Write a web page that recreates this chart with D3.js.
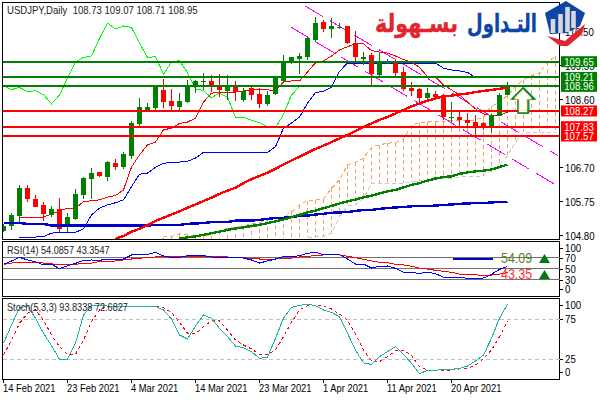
<!DOCTYPE html>
<html><head><meta charset="utf-8">
<script src="https://cdn.jsdelivr.net/npm/d3@7"></script>
<style>
html,body{margin:0;padding:0;background:#fff}
svg{display:block}
text{font-family:"Liberation Sans",Arial,sans-serif;font-size:10.5px;fill:#000}
</style></head><body><div id="c"></div>
<script>
const opens=[104.91,105.05,105.33,106.11,105.81,105.64,105.36,105.53,105.02,105.25,105.92,106.36,106.56,106.43,106.81,106.70,107.02,107.91,108.28,108.35,108.87,108.55,108.37,108.52,108.95,109.07,109.11,108.99,108.82,108.93,108.58,108.91,108.75,108.47,108.75,109.11,109.62,109.72,109.77,110.26,110.75,110.57,110.59,110.66,110.17,109.72,109.84,109.28,109.64,109.65,109.35,108.91,108.89,108.64,108.75,108.72,108.07,108.09,108.02,107.97,107.93,107.86,108.14,108.73];
const highs=[105.11,105.42,106.20,106.20,105.92,105.73,105.61,105.84,105.42,106.09,106.43,106.67,106.56,106.86,106.93,107.11,107.99,108.64,108.49,109.00,109.17,108.89,108.77,109.14,109.14,109.33,109.28,109.31,109.28,109.11,108.91,108.97,108.91,108.84,109.19,109.84,109.79,109.89,110.30,110.91,110.82,110.87,110.74,110.66,110.52,109.93,109.89,109.93,109.73,109.73,109.51,109.09,108.91,108.91,108.84,108.75,108.51,108.25,108.21,108.16,107.97,108.19,108.77,109.07];
const lows=[104.88,104.94,105.16,105.73,105.57,105.20,105.31,104.89,104.89,105.22,105.81,105.81,106.42,106.32,106.62,106.65,106.93,107.79,108.24,108.30,108.35,108.28,108.28,108.49,108.77,108.86,108.81,108.67,108.58,108.56,108.53,108.58,108.36,108.42,108.72,109.09,109.59,109.31,109.70,110.21,110.49,110.31,110.56,110.15,109.61,109.55,108.97,109.21,109.59,109.21,108.84,108.69,108.53,108.53,108.60,108.02,107.93,107.83,107.79,107.51,107.74,107.65,108.13,108.71];
const closes=[105.05,105.36,106.11,105.81,105.59,105.39,105.53,104.97,105.30,105.95,106.39,106.54,106.45,106.84,106.70,107.07,107.93,108.37,108.37,108.95,108.52,108.41,108.55,108.99,109.11,109.10,108.97,108.87,108.93,108.81,108.84,108.73,108.47,108.72,109.19,109.64,109.77,109.81,110.30,110.73,110.57,110.65,110.61,110.17,109.77,109.79,109.30,109.64,109.68,109.34,108.89,108.84,108.64,108.77,108.66,108.09,108.10,108.01,107.94,107.82,107.80,108.17,108.72,108.95];

const chikou=[108.97,108.87,108.93,108.81,108.84,108.73,108.47,108.72,109.19,109.64,109.77,109.81,110.30,110.73,110.57,110.65,110.61,110.17,109.77,109.79,109.30,109.64,109.68,109.34,108.89,108.84,108.64,108.77,108.66,108.09,108.10,108.01,107.94,107.82,107.80,108.17,108.72,108.95];
const tenkanStart=2;
const tenkan=[105.30,105.30,105.30,105.30,105.38,105.47,105.55,105.55,105.73,105.76,105.78,105.86,105.90,106.06,106.70,107.04,107.32,107.40,107.74,107.79,107.92,107.96,108.07,108.52,108.77,108.79,108.79,108.80,108.83,108.86,108.86,108.86,108.84,109.08,109.11,109.11,109.36,109.62,109.67,109.81,109.98,110.07,110.15,110.15,109.96,109.92,109.89,109.81,109.71,109.64,109.49,109.23,109.22,109.00,108.86,108.72,108.52,108.33,108.19,108.14,108.14,108.24];
const kijunStart=2;
const kijun=[104.73,104.74,104.74,104.75,104.85,104.87,104.87,104.87,104.97,105.36,105.55,105.64,105.70,105.78,106.15,106.50,106.53,106.69,106.81,106.82,106.84,106.86,106.95,107.11,107.11,107.11,107.11,107.11,107.11,107.11,107.11,107.11,107.27,107.79,107.93,108.10,108.49,108.79,108.82,108.94,109.38,109.61,109.61,109.61,109.61,109.61,109.61,109.61,109.61,109.61,109.61,109.61,109.61,109.47,109.42,109.39,109.35,109.21,109.21,109.21,109.21,109.21];
const maRedStart=14;
const maRed=[104.69,104.77,104.89,104.97,105.07,105.19,105.28,105.37,105.46,105.56,105.65,105.75,105.84,105.95,106.04,106.12,106.25,106.36,106.45,106.54,106.65,106.77,106.88,106.99,107.10,107.21,107.30,107.40,107.50,107.60,107.71,107.82,107.92,108.02,108.10,108.20,108.30,108.40,108.48,108.56,108.62,108.68,108.70,108.73,108.76,108.80,108.83,108.86,108.89,108.93];
const maGreenStart=22;
const maGreen=[104.70,104.73,104.76,104.80,104.85,104.89,104.94,104.98,105.01,105.05,105.08,105.13,105.18,105.23,105.30,105.36,105.43,105.48,105.55,105.61,105.68,105.74,105.79,105.85,105.90,105.96,106.02,106.06,106.13,106.20,106.25,106.32,106.38,106.42,106.44,106.51,106.55,106.58,106.60,106.63,106.70,106.77];
const maBlue=[105.13,105.13,105.13,105.11,105.11,105.11,105.06,105.06,105.06,105.06,105.06,105.06,105.06,105.06,105.06,105.06,105.06,105.06,105.06,105.08,105.08,105.08,105.08,105.11,105.12,105.13,105.16,105.16,105.16,105.20,105.20,105.20,105.22,105.25,105.27,105.28,105.30,105.33,105.34,105.37,105.39,105.42,105.43,105.44,105.47,105.50,105.50,105.53,105.55,105.57,105.58,105.60,105.61,105.61,105.62,105.64,105.65,105.67,105.68,105.69,105.69,105.71,105.72,105.73];
const spanStart=20;
const spanA=[104.74,104.75,104.83,104.80,104.77,104.77,104.80,104.91,104.99,105.02,105.05,105.11,105.15,105.22,105.28,105.30,105.44,105.64,105.75,105.78,105.81,106.11,106.34,106.76,106.83,106.95,107.26,107.32,107.37,107.38,107.49,107.88,107.94,107.96,107.97,107.97,108.00,108.00,108.00,108.02,108.10,108.41,108.50,108.72,108.95,109.14,109.26,109.33,109.64,109.81];
const spanB=[104.55,104.55,104.55,104.55,104.55,104.55,104.55,104.55,104.55,104.55,104.55,104.55,104.55,104.55,104.55,104.55,104.55,104.55,104.74,104.74,104.75,104.85,105.30,105.61,105.64,105.83,106.25,106.25,106.25,106.25,106.25,106.28,106.31,106.34,106.35,106.38,106.39,106.42,106.43,106.44,106.45,106.59,106.76,107.01,107.40,107.67,107.67,107.67,107.67,107.67];
const trendIdx=[[37.7,69.3],[36.0,69.4]];
const trendPx=[[111.21,107.02],[110.61,106.15]];

const rsi=[58.1,64.2,70.8,66.0,63.0,56.9,58.1,50.2,55.7,59.9,65.4,66.0,65.4,67.8,66.6,67.8,75.1,76.3,76.3,79.9,73.3,70.8,70.8,73.9,73.9,73.9,71.5,70.8,70.8,70.2,69.6,66.0,60.5,64.2,67.8,72.1,72.1,73.9,78.1,79.9,75.7,75.7,75.7,67.8,58.7,58.7,51.4,54.5,55.1,50.9,43.6,43.0,41.8,43.6,41.2,34.5,34.5,34.5,32.7,32.7,33.3,39.9,49.0,54.09];
const rsiSignal=[58.1,60.5,61.8,61.8,61.8,60.5,59.3,56.9,57.5,58.1,59.9,60.5,63.0,63.6,64.2,66.0,67.8,69.0,70.8,71.5,72.1,71.5,71.5,72.1,72.7,72.7,72.1,71.5,71.5,70.8,70.2,69.0,67.8,67.2,67.8,69.0,69.6,71.5,72.7,73.9,75.1,75.1,75.1,72.7,70.2,67.2,64.2,61.8,61.1,58.1,56.9,54.5,51.4,49.6,47.2,45.4,43.6,40.5,39.9,39.3,37.5,38.7,40.5,43.35];
const stochMain=[45.0,67.9,89.6,91.6,76.2,57.5,42.1,25.0,25.0,45.0,80.4,91.6,92.5,91.6,91.6,91.6,91.6,91.6,90.8,91.2,86.6,75.4,55.4,50.4,66.6,80.4,76.2,63.7,53.3,41.6,39.6,34.6,26.2,27.5,51.2,76.2,90.0,92.5,93.7,92.1,86.6,83.7,78.3,57.5,36.6,20.4,18.7,28.3,34.6,40.8,31.2,20.0,7.1,11.2,11.2,12.5,12.5,13.7,16.6,22.9,30.4,51.2,76.2,93.83];
const stochSignal=[30.4,49.1,70.0,82.5,86.6,74.1,55.4,40.8,31.2,31.2,49.1,72.1,86.6,91.6,91.6,91.6,91.6,91.6,91.2,91.2,89.6,83.7,71.2,57.5,56.6,65.8,72.9,72.9,61.6,49.1,42.9,37.9,31.2,31.2,36.6,53.3,71.2,86.6,92.1,92.9,91.6,87.9,81.6,74.1,56.6,36.6,22.9,22.1,28.3,35.8,36.6,29.6,15.8,11.6,10.4,10.8,11.6,12.9,13.7,17.9,25.4,36.6,53.3,72.68];

const dateTickIdx=[0,8,16,24,32,40,48,56];
const dateLabels=["14 Feb 2021","23 Feb 2021","4 Mar 2021","14 Mar 2021","23 Mar 2021","1 Apr 2021","11 Apr 2021","20 Apr 2021"];
const priceTicks=[110.50,109.55,108.60,106.70,105.75,104.80];
const rsiTicks=[100,70,50,30,0];
const stochTicks=[100,75,25,0];
const levelGreen=[109.65,109.21,108.96];
const levelRed=[108.27,107.83,107.57];

const W=600,H=400;
const svg=d3.select("#c").append("svg").attr("width",W).attr("height",H);
const pL=2.5,pR=559.5,pT=2.5,pB=239.5,rT=241.5,rB=296.5,sT=298.5,sB=379.5;
const x=d3.scaleLinear().domain([0,63]).range([3.5,507.5]);
const y=d3.scaleLinear().domain([104.80,109.65]).range([234.9,61.7]);
const yR=d3.scaleLinear().domain([0,100]).range([296.3,241.3]);
const yS=d3.scaleLinear().domain([0,100]).range([379.3,299.3]);
const squeeze=(sel,f)=>sel.each(function(){const L=this.getComputedTextLength();this.setAttribute("textLength",L*f);this.setAttribute("lengthAdjust","spacingAndGlyphs");});
const defs=svg.append("defs");
defs.append("clipPath").attr("id","cm").append("rect").attr("x",pL).attr("y",pT).attr("width",pR-pL).attr("height",pB-pT);
const main=svg.append("g").attr("clip-path","url(#cm)").style("shape-rendering","crispEdges");
const lineOf=(scale,start=0)=>d3.line().x((d,i)=>x(i+start)).y(d=>scale(d));

// cloud
const spanIdx=spanA.map((d,i)=>i);
main.selectAll(".v").data(spanIdx).join("line")
  .attr("x1",i=>x(i+spanStart)).attr("x2",i=>x(i+spanStart))
  .attr("y1",i=>y(spanA[i])).attr("y2",i=>y(spanB[i]))
  .attr("stroke","#f4a460").attr("stroke-dasharray","4 3");
main.append("path").attr("d",lineOf(y,spanStart)(spanA)).attr("fill","none").attr("stroke","#f4a460").attr("stroke-dasharray","4 3");
main.append("path").attr("d",lineOf(y,spanStart)(spanB)).attr("fill","none").attr("stroke","#d8bfd8").attr("stroke-dasharray","4 3");

// trend channel
trendIdx.forEach((t,k)=>{
  main.append("line").attr("x1",x(t[0])).attr("x2",x(t[1])).attr("y1",y(trendPx[k][0])).attr("y2",y(trendPx[k][1]))
    .attr("stroke","#ff00ff").attr("stroke-width",1).attr("stroke-dasharray","20.5 8");
});

// thin lines
main.append("path").attr("d",lineOf(y)(chikou)).attr("fill","none").attr("stroke","#00ff00");
main.append("path").attr("d",lineOf(y,kijunStart)(kijun)).attr("fill","none").attr("stroke","#0000ff");
main.append("path").attr("d",lineOf(y,tenkanStart)(tenkan)).attr("fill","none").attr("stroke","#ff0000");

// candles
const idx=closes.map((d,i)=>i);
const col=i=>closes[i]>=opens[i]?"#008000":"#ff0000";
main.selectAll(".w").data(idx).join("rect")
  .attr("x",i=>x(i)-0.5).attr("width",1)
  .attr("y",i=>y(highs[i])).attr("height",i=>y(lows[i])-y(highs[i])).attr("fill",col);
main.selectAll(".b").data(idx).join("rect")
  .attr("x",i=>x(i)-2.5).attr("width",5)
  .attr("y",i=>y(Math.max(opens[i],closes[i])))
  .attr("height",i=>Math.max(1,Math.abs(y(opens[i])-y(closes[i])))).attr("fill",col);

// thick MAs
main.append("path").attr("d",lineOf(y,0)(maBlue)).attr("fill","none").attr("stroke","#0000cd").attr("stroke-width",2.4);
main.append("path").attr("d",lineOf(y,maGreenStart)(maGreen)).attr("fill","none").attr("stroke","#008000").attr("stroke-width",2.4);
main.append("path").attr("d",lineOf(y,maRedStart)(maRed)).attr("fill","none").attr("stroke","#ff0000").attr("stroke-width",2.4);

// levels
levelGreen.forEach(v=>main.append("line").attr("x1",pL).attr("x2",pR).attr("y1",y(v)).attr("y2",y(v)).attr("stroke","#008000").attr("stroke-width",2));
levelRed.forEach(v=>main.append("line").attr("x1",pL).attr("x2",pR).attr("y1",y(v)).attr("y2",y(v)).attr("stroke","#ff0000").attr("stroke-width",2));

// arrow
const arrow="M523 88 L534 99 L528 99 L528 113 L518 113 L518 99 L512 99 Z";
svg.append("path").attr("d",arrow).attr("transform","translate(1,0)").attr("fill","none").attr("stroke","#20a0a0").attr("stroke-width",1.2);
svg.append("path").attr("d",arrow).attr("fill","#fff").attr("stroke","#0a7f0a").attr("stroke-width",1.6);
svg.append("path").attr("d",arrow).attr("transform","translate(523,100) scale(.78) translate(-523,-100)").attr("fill","#fff").attr("stroke","#f0d060").attr("stroke-width",.8);

// panels
const border=(t,b)=>svg.append("rect").attr("x",pL).attr("y",t).attr("width",pR-pL).attr("height",b-t).attr("fill","none").attr("stroke","#000").attr("stroke-width",1.2).style("shape-rendering","crispEdges");
border(pT,pB);border(rT,rB);border(sT,sB);

// RSI
const rg=svg.append("g").style("shape-rendering","crispEdges");
[70,50,30].forEach(v=>rg.append("line").attr("x1",pL).attr("x2",pR).attr("y1",yR(v)).attr("y2",yR(v)).attr("stroke","#707070"));
rg.append("line").attr("x1",x(56.2)).attr("x2",x(61.2)).attr("y1",yR(68)).attr("y2",yR(68)).attr("stroke","#0000cd").attr("stroke-width",1.4);
rg.append("path").attr("d",lineOf(yR)(rsiSignal)).attr("fill","none").attr("stroke","#ff0000").attr("stroke-width",1);
rg.append("path").attr("d",lineOf(yR)(rsi)).attr("fill","none").attr("stroke","#0000ff").attr("stroke-width",1);
// Stoch
const sg=svg.append("g").style("shape-rendering","crispEdges");
[75,25].forEach(v=>sg.append("line").attr("x1",pL).attr("x2",pR).attr("y1",yS(v)).attr("y2",yS(v)).attr("stroke","#c0c0c0").attr("stroke-dasharray","4 3"));
sg.append("path").attr("d",lineOf(yS)(stochSignal)).attr("fill","none").attr("stroke","#ff0000").attr("stroke-dasharray","3 3");
sg.append("path").attr("d",lineOf(yS)(stochMain)).attr("fill","none").attr("stroke","#20b2aa");

// axes
const styleAxis=(g,clampTop,clampBot)=>{
  g.select(".domain").remove();
  g.selectAll(".tick line").attr("stroke","#000").style("shape-rendering","crispEdges");
  g.selectAll(".tick text").attr("fill","#000").style("font-family",'"Liberation Sans",Arial,sans-serif').style("font-size","11px");
  if(clampTop!==undefined) g.selectAll(".tick").attr("transform",function(){
    const m=/translate\(([^,]+),([^)]+)\)/.exec(d3.select(this).attr("transform"));
    return `translate(${m[1]},${Math.min(clampBot,Math.max(clampTop,+m[2]))})`;});
};
const axP=svg.append("g").attr("transform",`translate(${pR},0)`).call(d3.axisRight(y).tickValues(priceTicks).tickFormat(d3.format(".2f")).tickSize(3).tickPadding(2));
styleAxis(axP);
axP.selectAll(".tick text").attr("x",5.5).attr("dy","0.38em");
const axR=svg.append("g").attr("transform",`translate(${pR},0)`).call(d3.axisRight(yR).tickValues(rsiTicks).tickSize(3).tickPadding(2));
styleAxis(axR,rT+7,rB-7);
axR.selectAll(".tick text").attr("x",5.5);
const axS=svg.append("g").attr("transform",`translate(${pR},0)`).call(d3.axisRight(yS).tickValues(stochTicks).tickSize(3).tickPadding(2));
styleAxis(axS,sT+7,sB-7);
axS.selectAll(".tick text").attr("x",5.5);
const axD=svg.append("g").attr("transform",`translate(-0.5,${sB})`).call(d3.axisBottom(x).tickValues(dateTickIdx).tickFormat((d,i)=>dateLabels[i]).tickSize(3).tickPadding(2));
styleAxis(axD);
axD.selectAll(".tick text").attr("text-anchor","start").attr("x",-0.5).attr("y",3).attr("dy","0.9em");
[axP,axR,axS].forEach(a=>squeeze(a.selectAll(".tick text"),0.88));
squeeze(axD.selectAll(".tick text"),0.85);

// level labels
const boxes=[[levelGreen.slice(0,1),"#008000"],[levelGreen.slice(1),"#008000"],[levelRed.slice(0,1),"#ff0000"],[levelRed.slice(1),"#ff0000"]];
boxes.forEach(([vals,c])=>{
  const t=y(vals[0])-5.5,b=y(vals[vals.length-1])+5.5;
  svg.append("rect").attr("x",561).attr("y",t).attr("width",36).attr("height",b-t).attr("fill",c);
  vals.forEach(v=>squeeze(svg.append("text").attr("x",579).attr("y",y(v)).attr("dy","0.36em").attr("text-anchor","middle").style("fill","#fff").style("font-size","11px").text(v.toFixed(2)),0.88));
});

// headers
const hdr=(t,yy,f)=>squeeze(svg.append("text").attr("x",7).attr("y",yy).attr("dy","0.36em").attr("xml:space","preserve").style("white-space","pre").text(t).style("fill","#222"),f);
hdr("USDJPY,Daily  108.73 109.07 108.71 108.95",10.7,0.91);
hdr("RSI(14) 54.0857 43.3547",250.5,0.87);
hdr("Stoch(5,3,3) 93.8338 72.6827",307.2,0.87);

// RSI value labels
squeeze(svg.append("text").attr("x",501).attr("y",258).attr("dy","0.36em").text("54.09").style("fill","#55802b").style("font-size","14px"),0.89);
squeeze(svg.append("text").attr("x",501).attr("y",274).attr("dy","0.36em").text("43.35").style("fill","#ff3030").style("font-size","14px"),0.89);
[258.5,274.5].forEach(c=>svg.append("path").attr("d",`M544.5 ${c-4.5} L550 ${c+4.5} L539 ${c+4.5} Z`).attr("fill","#007a10"));

// logo
const logo=svg.append("g");
logo.append("path").attr("d","M545 13 L566 1 L585 13 L580 26 L567 33 L550 34 Z").attr("fill","#0e46a8");
[[553,19,33],[560.5,14,33],[567.5,7,32],[573.5,11,28]].forEach(([cx,t,b])=>logo.append("rect").attr("x",cx-2.3).attr("y",t).attr("width",4.6).attr("height",b-t).attr("fill","#d8d8dc"));
logo.append("path").attr("d","M547 36 L565 41 L585 24 L582 34 L568 46 L560 46 Z").attr("fill","#e2242e");
const ar=(t,cx,len,c)=>{logo.append("text").attr("x",cx).attr("y",32).attr("text-anchor","middle").attr("textLength",len).attr("lengthAdjust","spacingAndGlyphs").style("font-family","'DejaVu Sans'").style("font-weight","bold").style("font-size","25px").style("fill",c).style("stroke",c).style("stroke-width",".4").text(t);};
ar("التـداول",502,70,"#0e46a8");
ar("بسـهولة",416.5,83,"#e2242e");
</script></body></html>
